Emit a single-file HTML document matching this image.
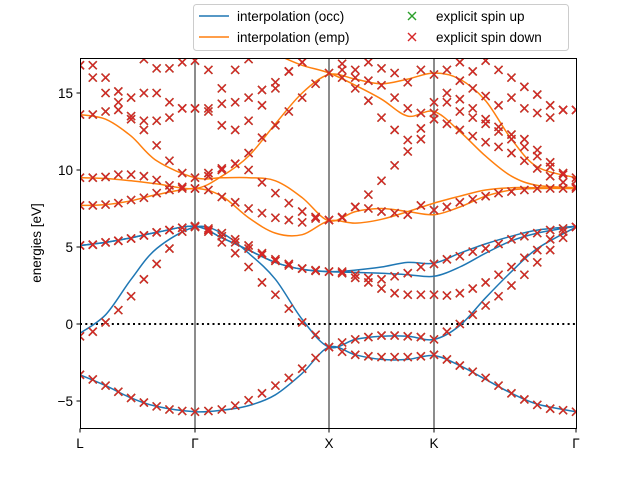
<!DOCTYPE html>
<html><head><meta charset="utf-8"><style>
body{margin:0;background:#fff}
svg text{font-family:"Liberation Sans","DejaVu Sans",sans-serif;font-size:13.5px;fill:#000}
</style></head><body>
<svg id="chart" width="640" height="480" viewBox="0 0 640 480" xmlns="http://www.w3.org/2000/svg">
<defs><clipPath id="clip"><rect x="80" y="58" width="496" height="370"/></clipPath></defs>
<rect x="0" y="0" width="640" height="480" fill="#fff"/>
<g id="plot" clip-path="url(#clip)"></g>
<rect x="80.5" y="58.5" width="496" height="370" fill="none" stroke="#000" stroke-width="1"/>
<g id="axes"></g>
<text transform="translate(41,243) rotate(-90)" text-anchor="middle">energies [eV]</text>
<g>
<rect x="193.5" y="4.5" width="375" height="46" rx="3" fill="#fff" stroke="#ccc"/>
<line x1="199" y1="16" x2="229" y2="16" stroke="#1f77b4" stroke-width="1.5"/>
<text x="237" y="21">interpolation (occ)</text>
<line x1="199" y1="37" x2="229" y2="37" stroke="#ff7f0e" stroke-width="1.5"/>
<text x="237" y="42">interpolation (emp)</text>
<g stroke="#2ca02c" stroke-width="1.4"><line x1="408" y1="12" x2="416" y2="20"/><line x1="408" y1="20" x2="416" y2="12"/></g>
<text x="436" y="21">explicit spin up</text>
<g stroke="#d62728" stroke-width="1.4"><line x1="408" y1="33" x2="416" y2="41"/><line x1="408" y1="41" x2="416" y2="33"/></g>
<text x="436" y="42">explicit spin down</text>
</g>
</svg>
<script>
// high-symmetry points (k-index) and labels
const symIdx = [0, 9, 19, 27, 38];
const symLabels = ["L", "Γ", "X", "K", "Γ"];
const yTicks = [-5, 0, 5, 10, 15];
// knot indices for interpolated lines
const knotIdx = [0,2,4,6,9,11,13,15,17,19,21,23,25,27,29,31,33,35,38];
const occ1 = [-3.3,-4.0,-4.8,-5.35,-5.7,-5.6,-5.3,-4.6,-3.2,-1.5,-2.0,-2.3,-2.3,-2.05,-2.7,-3.6,-4.5,-5.2,-5.7];
const occ2 = [-0.6,0.6,2.9,4.9,6.3,5.9,4.6,2.9,0.3,-1.5,-1.0,-0.8,-0.8,-1.0,-0.1,1.7,3.4,4.9,6.3];
const occ3 = [5.1,5.3,5.6,5.95,6.35,5.6,4.8,4.0,3.55,3.4,3.5,3.7,4.0,3.95,4.6,5.2,5.7,6.1,6.35];
const occ4 = [5.1,5.3,5.6,5.95,6.35,5.6,4.8,4.0,3.55,3.4,3.35,3.3,3.2,3.1,3.7,4.6,5.4,5.9,6.35];
const emp1 = [7.7,7.75,8.0,8.4,8.8,8.3,6.9,5.9,5.8,6.7,6.55,6.8,7.3,7.85,8.3,8.7,8.85,8.85,8.8];
const emp2 = [9.5,9.45,9.3,9.1,8.8,9.6,10.9,13.0,15.0,16.2,15.9,15.6,15.9,16.3,15.9,14.5,12.0,10.2,9.5];
const emp3 = [13.6,13.3,12.2,10.6,9.5,9.5,9.5,9.3,8.2,6.7,7.3,7.5,7.3,7.1,7.6,8.3,8.7,8.8,8.8];
const emp4 = [19,19,19,19,19,18.5,18,17.5,16.8,16.3,15.5,14.6,13.5,13.8,12.5,10.9,9.6,9.0,8.85];
// explicit energies at k-index 0..38
const ex1 = [-3.3,-3.6,-4.0,-4.4,-4.8,-5.1,-5.35,-5.55,-5.65,-5.7,-5.65,-5.55,-5.3,-4.95,-4.5,-4.0,-3.5,-2.9,-2.2,-1.5,-1.8,-2.0,-2.1,-2.15,-2.15,-2.15,-2.1,-2.0,-2.3,-2.7,-3.1,-3.5,-4.0,-4.5,-4.9,-5.25,-5.5,-5.6,-5.7];
const ex2 = [-0.8,-0.5,0.1,0.9,1.8,2.9,3.9,4.9,6.0,6.3,6.0,5.3,4.6,3.7,2.7,1.9,1.0,0.1,-0.7,-1.5,-1.2,-1.0,-0.85,-0.75,-0.75,-0.8,-0.85,-1.0,-0.5,0.0,0.6,1.2,1.8,2.5,3.2,4.0,4.8,5.6,6.3];
const ex3 = [5.1,5.15,5.3,5.4,5.55,5.75,5.95,6.1,6.25,6.35,6.1,5.7,5.3,4.9,4.5,4.1,3.8,3.6,3.45,3.4,3.3,3.0,2.7,2.3,2.0,1.9,1.9,1.9,1.85,2.0,2.3,2.7,3.2,3.7,4.3,4.8,5.5,6.0,6.3];
const ex4 = [5.1,5.15,5.3,5.4,5.55,5.75,5.95,6.1,6.25,6.35,6.2,5.9,5.5,5.1,4.6,4.2,3.9,3.6,3.5,3.4,3.4,3.2,3.0,2.9,3.1,3.3,3.7,3.9,4.2,4.4,4.7,4.9,5.2,5.5,5.7,5.9,6.1,6.2,6.3];
const ex5 = [7.7,7.7,7.75,7.85,8.05,8.2,8.5,8.7,8.8,8.8,8.7,8.25,7.9,7.5,7.2,6.9,6.75,6.6,6.85,6.75,6.95,7.6,7.5,7.3,7.2,7.1,7.7,7.4,7.6,7.9,8.1,8.3,8.5,8.6,8.7,8.8,8.8,8.8,8.8];
const ex6 = [9.5,9.5,9.55,9.7,9.7,9.6,9.35,9.0,8.9,8.8,9.8,10.1,10.4,10.0,9.2,8.5,7.85,7.3,6.95,6.75,6.9,7.6,8.4,9.3,10.3,11.2,12.0,13.3,13.0,12.6,12.2,11.8,11.5,11.1,10.6,10.1,9.6,9.2,8.9];
const ex7 = [13.6,13.6,13.8,13.9,13.5,13.2,13.2,13.4,14.0,14.0,14.0,14.3,14.4,14.7,15.2,15.7,16.4,17.0,17.5,17.5,16.0,15.3,14.5,13.4,12.6,11.95,12.7,14.4,14.4,13.8,13.4,13.0,12.5,12.0,11.5,10.9,10.2,9.7,9.5];
const ex8 = [16.8,16.0,15.0,15.1,14.7,15.0,15.0,14.4,14.0,14.0,13.8,12.9,12.6,13.2,14.2,15.3,16.4,17.0,17.5,17.5,16.5,16.0,15.8,15.5,14.7,14.0,13.7,13.7,15.0,14.6,14.0,13.3,12.8,12.3,12.0,11.3,10.5,9.8,9.3];
const ex9 = [16.8,16.8,16.0,14.4,13.3,12.6,11.6,10.6,9.8,9.5,9.6,10.0,10.4,11.1,12.1,12.9,13.8,14.7,15.6,16.3,16.9,16.5,17.0,16.6,16.3,15.7,16.5,16.2,16.5,15.8,15.3,14.8,14.2,14.7,14.0,13.7,13.4,13.9,13.9];
const ex10 = [17.5,17.5,17.5,17.5,17.5,17.2,16.6,16.6,17.0,17.1,16.5,15.3,16.5,17.2,17.5,17.5,17.5,17.5,17.5,17.5,17.5,17.5,17.5,17.5,17.5,17.5,17.5,17.5,17.5,17.0,16.4,17.1,16.5,16.0,15.4,14.9,14.2,13.9,13.9];

const NS="http://www.w3.org/2000/svg";
const symX=[80,195,329,434,576];
function xOf(i){
  for(let s=0;s<symIdx.length-1;s++){
    if(i<=symIdx[s+1]){const f=(i-symIdx[s])/(symIdx[s+1]-symIdx[s]);return symX[s]+f*(symX[s+1]-symX[s]);}
  }
  return symX[symX.length-1];
}
function yOf(e){return 324-e*15.4;}
const plot=document.getElementById('plot');
const axes=document.getElementById('axes');
function mk(tag,attrs,parent){const el=document.createElementNS(NS,tag);for(const k in attrs)el.setAttribute(k,attrs[k]);parent.appendChild(el);return el;}

for(let s=1;s<symIdx.length-1;s++){
  const l=mk('line',{x1:xOf(symIdx[s]),x2:xOf(symIdx[s]),y1:58,y2:428,stroke:'#8c8c8c','stroke-width':2},plot);
  
  
}
const fl=mk('line',{x1:80,x2:576,y1:yOf(0),y2:yOf(0),stroke:'#000','stroke-width':2,'stroke-dasharray':'2,3.3'},plot);



function curve(vals){
  const p=knotIdx.map((k,j)=>[xOf(k),yOf(vals[j])]);
  let d='M'+p[0][0]+','+p[0][1];
  for(let j=0;j<p.length-1;j++){
    const p0=p[Math.max(j-1,0)],p1=p[j],p2=p[j+1],p3=p[Math.min(j+2,p.length-1)];
    const c1=[p1[0]+(p2[0]-p0[0])/6,p1[1]+(p2[1]-p0[1])/6];
    const c2=[p2[0]-(p3[0]-p1[0])/6,p2[1]-(p3[1]-p1[1])/6];
    d+=' C'+c1[0].toFixed(1)+','+c1[1].toFixed(1)+' '+c2[0].toFixed(1)+','+c2[1].toFixed(1)+' '+p2[0].toFixed(1)+','+p2[1].toFixed(1);
  }
  return d;
}
const occ=[occ1,occ2,occ3,occ4], emp=[emp1,emp2,emp3,emp4];
emp.forEach((b,n)=>{
  const el=mk('path',{d:curve(b),fill:'none',stroke:'#ff7f0e','stroke-width':1.5},plot);
  
  
});
occ.forEach((b,n)=>{
  const el=mk('path',{d:curve(b),fill:'none',stroke:'#1f77b4','stroke-width':1.5},plot);
  
  
});
const ex=[ex1,ex2,ex3,ex4,ex5,ex6,ex7,ex8,ex9,ex10];
function cross(x,y,color,g){
  mk('line',{x1:x-4,y1:y-4,x2:x+4,y2:y+4,stroke:color,'stroke-width':1.5},g);
  mk('line',{x1:x-4,y1:y+4,x2:x+4,y2:y-4,stroke:color,'stroke-width':1.5},g);
}
[['#2ca02c','up'],['#d62728','down']].forEach(([c,nm])=>{
  ex.forEach((b,n)=>{
    const g=mk('g',{},plot);
    
    
    b.forEach((e,i)=>cross(xOf(i),yOf(e),c,g));
  });
});
yTicks.forEach(t=>{
  const y=yOf(t);
  const tk=mk('line',{x1:76.5,x2:80.5,y1:y,y2:y,stroke:'#000','stroke-width':1},axes);
  
  
  const tx=mk('text',{x:73,y:y+5,'text-anchor':'end'},axes);
  tx.textContent=(t<0?'−'+(-t):String(t));
  
  
});
symIdx.forEach((k,s)=>{
  const x=xOf(k);
  const tk=mk('line',{x1:x,x2:x,y1:428.5,y2:432.5,stroke:'#000','stroke-width':1},axes);
  
  
  const tx=mk('text',{x:x,y:448,'text-anchor':'middle'},axes);
  tx.textContent=symLabels[s];
  
  
});
</script>
</body></html>
